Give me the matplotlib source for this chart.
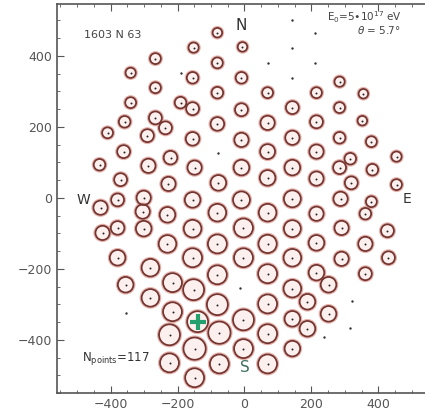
import matplotlib
matplotlib.use("Agg")
import matplotlib.pyplot as plt
import numpy as np
from matplotlib.ticker import MultipleLocator

# detector positions (m) and ring radius (m) of the hit stations
det_x = [-81, -152, -6, -266, -81, -340, -155, -9, -266, -81,
         -340, -191, -155, -9, -266, -358, -236, -81, -409, -290,
         -155, -9, -361, -221, -433, -287, -149, -9, -370, -227,
         -78, 69, 215, 284, 355, 143, 284, 352, 69, 215,
         143, 284, 379, 69, 215, 316, 454, 143, 284, 382,
         69, 215, 319, 454, 143, 287, 379, 361, 69, 215,
         427, -3, 143, 290, 69, 215, 361, 430, -3, 143,
         290, 69, 215, 361, 251, 143, 69, 188, -3, 143,
         251, 188, 69, -3, 143, 69, -379, -430, -301, -304,
         -230, -155, -81, -424, -379, -301, -230, -155, -81, -379,
         -281, -155, -355, -215, -81, -152, -281, -81, -215, -140,
         -224, -75, -149, -224, -75, -149, -9]
det_y = [465, 423, 425, 392, 380, 352, 338, 338, 310, 296,
         268, 268, 251, 248, 225, 214, 197, 208, 183, 175,
         166, 163, 130, 113, 93, 90, 85, 85, 51, 39,
         42, 296, 296, 327, 293, 254, 254, 217, 211, 214,
         169, 169, 158, 130, 130, 110, 116, 85, 85, 79,
         56, 54, 42, 37, -3, -3, -11, -45, -42, -45,
         -93, -85, -87, -85, -130, -127, -130, -169, -169, -169,
         -172, -214, -211, -214, -245, -256, -299, -293, -344, -341,
         -327, -369, -383, -425, -425, -468, -6, -28, 0, -39,
         -48, -6, -42, -99, -85, -87, -130, -87, -130, -169,
         -197, -169, -245, -239, -217, -259, -282, -301, -321, -349,
         -386, -380, -425, -465, -468, -507, -6]
det_r = [17, 18, 17, 19, 19, 18, 20, 20, 19, 20,
         19, 20, 22, 22, 22, 20, 22, 23, 19, 22,
         23, 24, 22, 23, 20, 24, 24, 26, 22, 24,
         26, 19, 19, 18, 17, 22, 19, 17, 24, 22,
         24, 20, 19, 25, 24, 20, 18, 26, 22, 20,
         26, 24, 22, 19, 28, 24, 19, 20, 29, 24,
         22, 31, 28, 24, 30, 26, 24, 22, 31, 29,
         24, 31, 26, 22, 26, 29, 31, 26, 34, 26,
         26, 26, 31, 31, 26, 31, 22, 24, 24, 24,
         26, 26, 29, 24, 23, 26, 29, 29, 31, 26,
         29, 31, 26, 31, 31, 34, 29, 34, 31, 34,
         34, 36, 36, 31, 31, 31, 28]

# stations without signal
off_x = [143, 212, 143, 69, 212, 143, -191, -78, -12, 322, 316, 236, -355]
off_y = [501, 465, 423, 380, 380, 338, 352, 127, -254, -290, -366, -392, -324]

core_x, core_y = -140, -349

fig = plt.figure(figsize=(4.25, 4.13), dpi=100)
ax = fig.add_axes([57 / 425, 20 / 413, 375 / 425, 388.7 / 413])
ax.set_xlim(-560, 560)
ax.set_ylim(-550, 545)

# ring size in points from radius in metres
ppu = 375 / 1120
lw = 1.3
diam_pt = (2 * np.array(det_r) * ppu - lw * 100 / 72) * 72 / 100
diam_pt_out = (2 * np.array(det_r) * ppu + 1.0) * 72 / 100

ax.scatter(det_x, det_y, s=diam_pt_out ** 2, facecolors="#fcf0ef",
           edgecolors="#e8b4ae", linewidths=0.9, zorder=2)
ax.scatter(det_x, det_y, s=diam_pt ** 2, facecolors="none",
           edgecolors="#74342f", linewidths=lw, zorder=3)
ax.scatter(det_x, det_y, s=2, color="#222222", zorder=4, linewidths=0)
ax.scatter(off_x, off_y, s=3, color="#333333", zorder=4, linewidths=0)

ax.plot([core_x], [core_y], marker="+", ms=11, mew=3, color="#23a06e", zorder=5)

ax.text(-480, 459, "1603 N 63", fontsize=8, color="#444444", va="center")
ax.text(-10, 485, "N", fontsize=11, color="#333333", ha="center", va="center")
ax.text(470, 510, r"E$_0$=5$\bullet$10$^{17}$ eV", fontsize=7.5, color="#444444",
        ha="right", va="center")
ax.text(465, 474, r"$\theta$ = 5.7$\degree$", fontsize=7.5, color="#444444",
        ha="right", va="center")
ax.text(-482, -5, "W", fontsize=10, color="#333333", ha="center", va="center")
ax.text(485, -3, "E", fontsize=10, color="#333333", ha="center", va="center")
ax.text(0, -478, "S", fontsize=11, color="#3f6f5f", ha="center", va="center")
ax.text(-485, -452, r"N$_{\rm points}$=117", fontsize=8.5, color="#333333",
        ha="left", va="center")

ax.xaxis.set_major_locator(MultipleLocator(200))
ax.yaxis.set_major_locator(MultipleLocator(200))
ax.xaxis.set_minor_locator(MultipleLocator(50))
ax.yaxis.set_minor_locator(MultipleLocator(50))
ax.tick_params(which="both", direction="in", top=True, right=True,
               colors="#555555", labelsize=9)
ax.tick_params(which="major", length=5)
ax.tick_params(which="minor", length=2.5)
for s in ax.spines.values():
    s.set_color("#555555")
    s.set_linewidth(1.2)

fig.savefig("out.png", dpi=100)
